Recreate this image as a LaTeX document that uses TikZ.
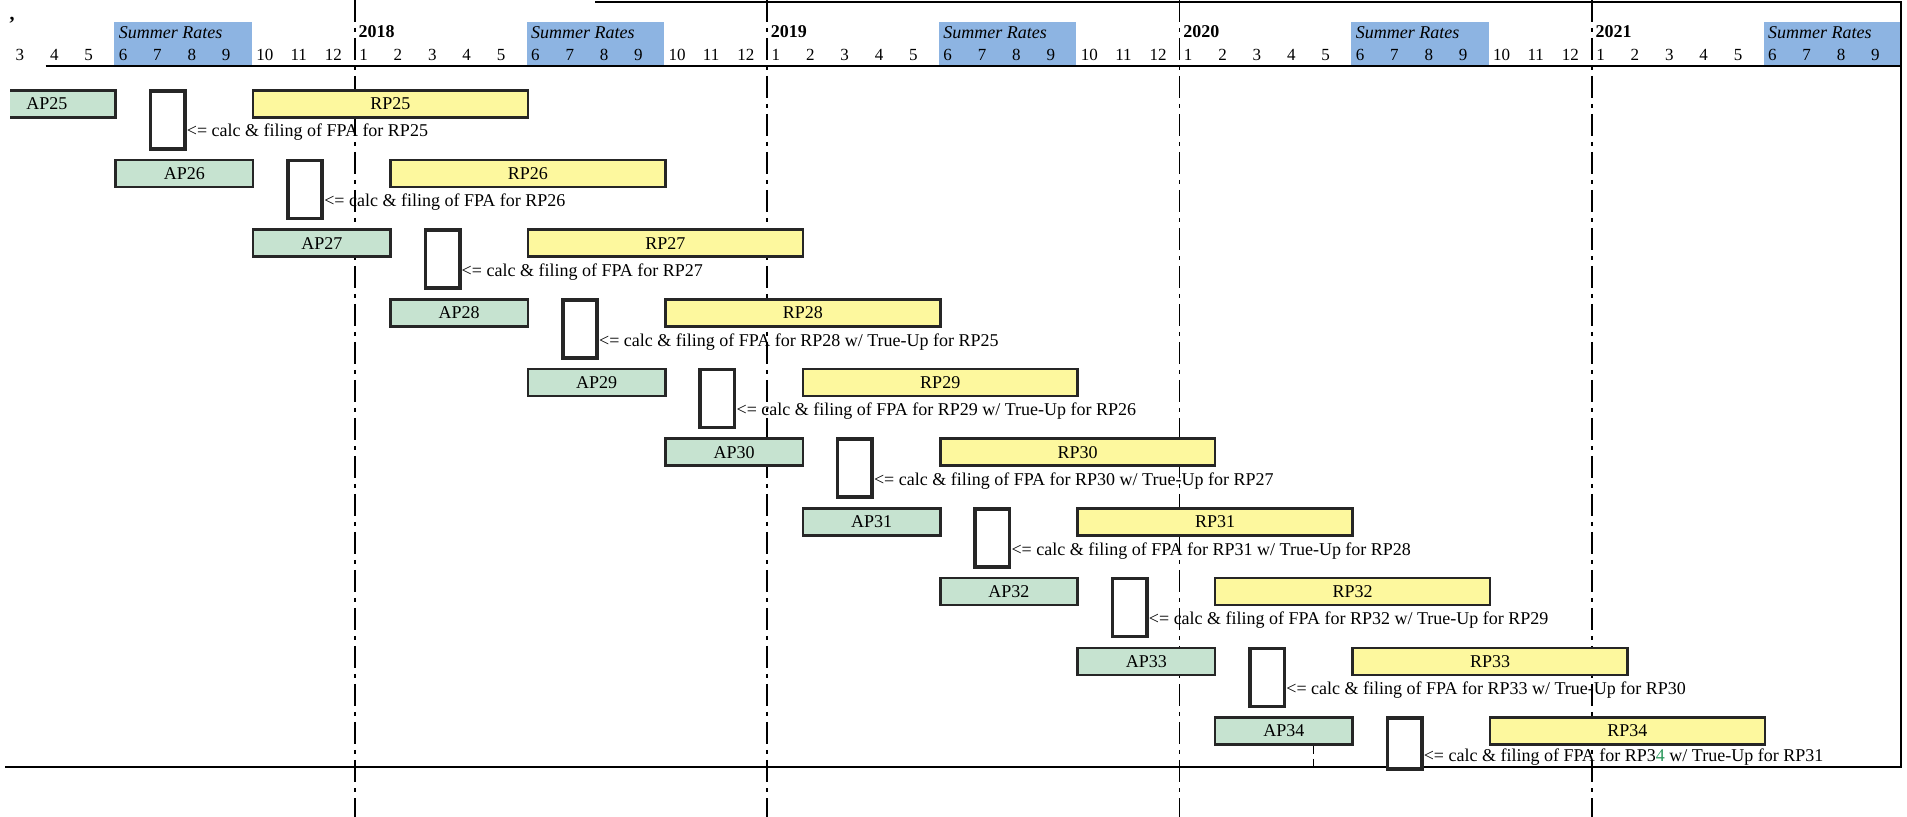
\documentclass[tikz,border=0pt]{standalone}
\usepackage{fontspec}
\setmainfont{Liberation Serif}
\usetikzlibrary{positioning}
\definecolor{apgreen}{RGB}{198,227,208}
\definecolor{rpyellow}{RGB}{253,248,158}
\definecolor{summerblue}{RGB}{141,180,226}
\definecolor{scangreen}{RGB}{40,150,90}

\begin{document}
\begin{tikzpicture}[
  x=17.18pt,y=-0.5pt,
  font=\fontsize{9}{10}\selectfont,
  month/.style={anchor=base west,inner sep=0pt,font=\fontsize{8.5}{10}\selectfont},
  season/.style={anchor=base west,inner sep=0pt,font=\fontsize{9}{10}\selectfont\itshape},
  year/.style={anchor=base west,inner sep=0pt,font=\fontsize{9}{10}\selectfont\bfseries},
  yearline/.style={line width=0.9pt,dash pattern=on 11pt off 3pt on 2pt off 3pt},
  frame/.style={line width=1.3pt},
  apbar/.style={draw=black!85,line width=1.3pt,fill=apgreen,anchor=north west,minimum width=68.72pt,minimum height=13.5pt,inner sep=0pt},
  rpbar/.style={draw=black!85,line width=1.3pt,fill=rpyellow,anchor=north west,minimum width=137.44pt,minimum height=13.5pt,inner sep=0pt},
  calcbox/.style={draw=black!85,line width=1.8pt,fill=white,anchor=north west,minimum width=17.18pt,inner sep=0pt},
  note/.style={anchor=base west,inner sep=0pt}
]
\useasboundingbox (-3.3266,0) rectangle (52.174,817);

\foreach \k in {0,12,24,36,48}{
  \fill[summerblue] (\k,22) rectangle (\k+4,66);
  \node[season] (sr\k) at (\k+0.12,39) {Summer Rates};
}
\foreach \k/\y in {7/2018,19/2019,31/2020,43/2021}{
  \draw[yearline] (\k,0) -- (\k,817);
  \node[year] (y\y) at (\k+0.1,38) {\y};
}
\foreach \k in {-3,...,51}{
  \pgfmathtruncatemacro{\mo}{mod(\k+5,12)+1}
  \node[month] (m\k) at (\k+0.12,61) {\mo};
}
\node[inner sep=0pt,font=\fontsize{10}{10}\selectfont\bfseries] (tick) at (-2.98,24) {'};

\draw[frame] (-2,66) -- (52,66);
\draw[frame] (14,2) -- (52,2) -- (52,767) -- (-3.18,767);

\begin{scope}
\clip (-3.03,0) rectangle (52.174,817);
\foreach \r in {0,...,9}{
  \pgfmathtruncatemacro{\n}{25+\r}
  \pgfmathtruncatemacro{\tu}{22+\r}
  \pgfmathsetmacro{\rowy}{89+69.7*\r}
  \pgfmathsetmacro{\calch}{\r==9 ? 25.5 : 29}
  \pgfmathsetmacro{\notey}{\rowy+(\r==9 ? 45 : 48)}
  \node[apbar] (ap\n) at (4*\r-4,\rowy) {AP\n};
  \node[rpbar] (rp\n) at (4*\r+4,\rowy) {RP\n};
  \node[calcbox,minimum height=\calch pt] (calc\n) at (4*\r+1,\rowy) {};
  \node[note] (note\n) at (4*\r+2.1,\notey)
    {<= calc \& filing of FPA for \ifnum\r=9 RP3{\color{scangreen}4}\else RP\n\fi\ifnum\r>2{} w/ True-Up for RP\tu\fi};
}
\end{scope}
\draw[line width=0.9pt,dash pattern=on 4pt off 2.5pt] ([xshift=14.8pt]ap34.south) -- ++(0,24);
\end{tikzpicture}
\end{document}
